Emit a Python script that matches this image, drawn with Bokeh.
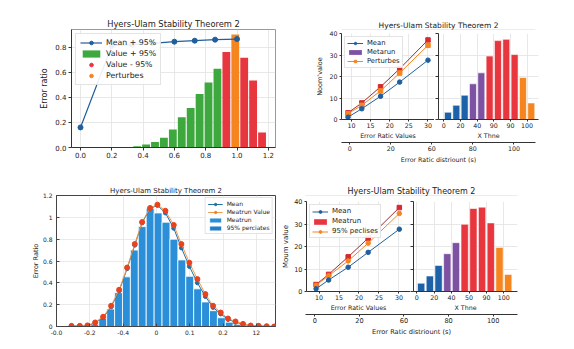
import numpy as np
from bokeh.plotting import figure
from bokeh.layouts import column, row
from bokeh.models import Range1d, FixedTicker, Legend, LegendItem
from bokeh.embed import file_html
from bokeh.resources import INLINE

FONT = "DejaVu Sans"
TITLE = "Hyers-Ulam Stability Theorem 2"
NONE = np.array([np.nan])  # legend-only proxies: nothing is drawn for NaN

# ---------------- data: top-left panel ----------------
tl_mean_x = [0.0, 0.2, 0.33, 0.46, 0.6, 0.73, 0.86, 1.0]
tl_mean_y = [0.16, 0.81, 0.82, 0.83, 0.843, 0.851, 0.859, 0.864]
tl_plus_x = [0.362, 0.419, 0.476, 0.533, 0.59, 0.647, 0.704, 0.761, 0.818, 0.875]
tl_plus_y = [0.01, 0.024, 0.043, 0.077, 0.144, 0.24, 0.315, 0.427, 0.517, 0.627]
tl_minus_x = [0.932, 1.046, 1.103, 1.16]
tl_minus_y = [0.76, 0.715, 0.533, 0.12]
tl_pert_x = [0.989]
tl_pert_y = [0.90]
tl_xticks = [0.0, 0.2, 0.4, 0.6, 0.8, 1.0, 1.2]
tl_xlabels = ["0.0", "0.2", "0.4", "0.6", "0.8", "1.0", "1.2"]
tl_yticks = [0.0, 0.2, 0.4, 0.6, 0.8]
tl_ylabels = ["0.0", "0.2", "0.4", "0.6", "0.8"]

# ---------------- data: top-right panel ----------------
tr_x = [9.1, 12.7, 17.6, 22.6, 30.0]
tr_mean = [1.1, 5.0, 10.8, 17.4, 27.6]
tr_pert = [2.7, 6.6, 13.3, 21.6, 34.5]
tr_upper = [3.1, 7.7, 15.2, 23.6, 37.0]
tr_bar_x = [5, 15, 25, 35, 45, 55, 65, 75, 85, 95, 105]
tr_bar_h = [3.4, 6.6, 11.3, 16.6, 21.7, 29.5, 36.7, 37.3, 30.2, 19.5, 7.7]
tr_bar_grp = ["mean", "mean", "mean", "meta", "meta", "upper", "upper", "upper", "upper", "pert", "pert"]
tr_xticks_l = [10, 15, 20, 25, 30]
tr_yticks = [0, 10, 20, 30, 40]
tr_xticks_r = [0, 20, 40, 60, 80, 100]
tr_xlabels_r = ["0", "20", "40", "90", "90", "100"]
tr_sec_ticks = [0, 20, 40, 60, 80]
tr_sec_labels = ["0", "20", "60", "80", "100"]

# ---------------- data: bottom-left panel ----------------
bl_bar_x = [-0.37, -0.3225, -0.275, -0.2275, -0.18, -0.1325, -0.085, -0.0375, 0.01, 0.0575,
            0.105, 0.1525, 0.2, 0.2475, 0.295, 0.3425, 0.39, 0.4375, 0.485, 0.5325]
bl_bar_h = [0.02, 0.073, 0.16, 0.31, 0.455, 0.70, 0.915, 1.08, 1.04, 0.955,
            0.80, 0.61, 0.46, 0.345, 0.225, 0.145, 0.08, 0.04, 0.02, 0.01]
bl_pt_x = [-0.51, -0.46, -0.414, -0.368, -0.32, -0.272, -0.224, -0.176, -0.13, -0.086, -0.038,
           0.006, 0.054, 0.104, 0.15, 0.198, 0.246, 0.294, 0.34, 0.386, 0.43, 0.475, 0.52,
           0.566, 0.614, 0.662, 0.707]
bl_value = [0.006, 0.006, 0.01, 0.037, 0.089, 0.19, 0.336, 0.54, 0.755, 0.957, 1.086,
            1.116, 1.06, 0.93, 0.755, 0.584, 0.434, 0.297, 0.19, 0.128, 0.073, 0.046, 0.024,
            0.009, 0.006, 0.003, 0.0]
bl_mean = [0.004, 0.005, 0.008, 0.033, 0.082, 0.18, 0.325, 0.53, 0.745, 0.95, 1.08,
           1.11, 1.04, 0.90, 0.72, 0.55, 0.40, 0.275, 0.175, 0.115, 0.065, 0.04, 0.02,
           0.008, 0.005, 0.002, 0.0]
bl_xticks = [-0.6, -0.4, -0.2, 0.0, 0.2, 0.4, 0.6]
bl_xlabels = ["-0.0", "-0.2", "-0.4", "0", "0.1", "0.2", "12"]
bl_yticks = [0.0, 0.2, 0.4, 0.6, 0.8, 1.0, 1.2]
bl_ylabels = ["0", "0.2", "0.4", "0.6", "0.8", "1", "1.2"]

# ---------------- data: bottom-right panel ----------------
br_x = [9.26, 12.4, 17.3, 22.3, 30.1]
br_mean = [1.2, 5.1, 10.8, 17.4, 27.7]
br_pert = [2.8, 7.0, 13.6, 21.5, 34.7]
br_upper = [3.1, 7.6, 15.4, 23.7, 37.3]
br_bar_x = [5, 15, 25, 35, 45, 55, 65, 75, 85, 95, 105]
br_bar_h = [3.7, 6.9, 11.6, 16.8, 21.7, 29.9, 36.9, 37.5, 30.5, 19.6, 7.6]
br_bar_grp = ["mean", "mean", "mean", "meta", "meta", "upper", "upper", "upper", "upper", "pert", "pert"]
br_xlabels_r = ["0", "20", "40", "50", "90", "100"]

# ---------------- colours ----------------
BLUE = "#1f5f9e"
GREEN = "#3da83d"
RED = "#e8363f"
ORANGE = "#f5851f"
PURPLE = "#7d52a3"
DARKRED = "#a3282e"
BARBLUE = "#2a8fd8"
GRP_COL = {"mean": "#1d62a8", "meta": PURPLE, "upper": RED, "pert": ORANGE}
TXT = "#222222"


def make_fig(w, h, xr, yr, bl, br, bt, bb, **kw):
    p = figure(width=w, height=h, x_range=Range1d(*xr), y_range=Range1d(*yr),
               output_backend="svg", toolbar_location=None,
               min_border_left=bl, min_border_right=br, min_border_top=bt, min_border_bottom=bb, **kw)
    p.border_fill_color = "white"
    p.background_fill_color = "white"
    return p


def style_axis(ax, fs, lfs, tick_out=3, tick_in=0, standoff=2, lstandoff=2, color="#333333"):
    ax.major_label_text_font = FONT
    ax.major_label_text_font_size = fs
    ax.major_label_text_color = TXT
    ax.axis_label_text_font = FONT
    ax.axis_label_text_font_size = lfs
    ax.axis_label_text_font_style = "normal"
    ax.axis_label_text_color = TXT
    ax.axis_line_color = color
    ax.major_tick_line_color = color
    ax.minor_tick_line_color = None
    ax.major_tick_out = tick_out
    ax.major_tick_in = tick_in
    ax.major_label_standoff = standoff
    ax.axis_label_standoff = lstandoff


def set_ticks(ax, vals, labels=None):
    ax.ticker = FixedTicker(ticks=vals, minor_ticks=[])
    if labels is not None:
        ax.major_label_overrides = dict(zip(vals, labels))


def style_grid(p, xvals, yvals, color="#e2e2e2"):
    p.xgrid.ticker = FixedTicker(ticks=xvals, minor_ticks=[])
    p.ygrid.ticker = FixedTicker(ticks=yvals, minor_ticks=[])
    p.grid.grid_line_color = color
    p.grid.grid_line_width = 0.8


def style_title(p, fs, standoff):
    p.title.text_font = FONT
    p.title.text_font_size = fs
    p.title.text_font_style = "normal"
    p.title.align = "center"
    p.title.standoff = standoff
    p.title.text_color = TXT


def make_legend(items, loc, fs, gw, gh, spacing, padding, margin):
    return Legend(items=items, location=loc, label_text_font=FONT, label_text_font_size=fs,
                  label_text_color=TXT, glyph_width=gw, glyph_height=gh, label_height=gh,
                  spacing=spacing, padding=padding, margin=margin, label_standoff=4,
                  border_line_color="#c8c8c8", border_line_width=0.8,
                  background_fill_color="white", background_fill_alpha=0.9)


def header(w, h, bl, br, fs):
    p = figure(width=w, height=h, title=TITLE, x_range=Range1d(0, 1), y_range=Range1d(0, 1),
               output_backend="svg", toolbar_location=None,
               x_axis_location=None, y_axis_location=None,
               min_border_left=bl, min_border_right=br, min_border_top=h - 1, min_border_bottom=0)
    p.outline_line_color = None
    p.border_fill_color = "white"
    style_title(p, fs, 0)
    return p


def axis_fig(w, h, xr, bl, br, vals, labels, label, fs):
    p = figure(width=w, height=h, x_range=Range1d(*xr), y_range=Range1d(0, 1),
               output_backend="svg", toolbar_location=None, y_axis_location=None,
               min_border_left=bl, min_border_right=br, min_border_top=0, min_border_bottom=h - 1)
    p.grid.visible = False
    p.outline_line_color = None
    p.border_fill_color = "white"
    ax = p.xaxis[0]
    style_axis(ax, fs, fs, tick_out=2, standoff=1, lstandoff=2)
    set_ticks(ax, vals, labels)
    ax.axis_label = label
    return p


# ================= top-left =================
tl = make_fig(271, 162, (-0.0575, 1.246), (0, 0.94), 63, 4, 21, 23, title=TITLE)
style_title(tl, "8.3px", 1)
style_grid(tl, tl_xticks, tl_yticks)
tl.outline_line_color = "#999999"
style_axis(tl.xaxis[0], "7px", "8px", tick_out=3, standoff=1)
style_axis(tl.yaxis[0], "7px", "8px", tick_out=3, standoff=2, lstandoff=3)
set_ticks(tl.xaxis[0], tl_xticks, tl_xlabels)
set_ticks(tl.yaxis[0], tl_yticks, tl_ylabels)
tl.yaxis[0].axis_label = "Error ratio"
r_plus = tl.vbar(x=tl_plus_x, top=tl_plus_y, width=0.05, fill_color=GREEN, line_color=None)
r_minus = tl.vbar(x=tl_minus_x, top=tl_minus_y, width=0.05, fill_color=RED, line_color=None)
r_pert = tl.vbar(x=tl_pert_x, top=tl_pert_y, width=0.05, fill_color=ORANGE, line_color=None)
r_ml = tl.line(tl_mean_x, tl_mean_y, line_color=BLUE, line_width=1.2)
r_mp = tl.scatter(tl_mean_x, tl_mean_y, marker="circle", size=5, fill_color=BLUE, line_color=BLUE)
r_minus_leg = tl.scatter(x=NONE, y=NONE, marker="circle", size=7, fill_color=RED, line_color=RED)
r_pert_leg = tl.scatter(x=NONE, y=NONE, marker="circle", size=7, fill_color=ORANGE, line_color=ORANGE)
tl.add_layout(make_legend([
    LegendItem(label="Mean + 95%", renderers=[r_ml, r_mp]),
    LegendItem(label="Value + 95%", renderers=[r_plus]),
    LegendItem(label="Value - 95%", renderers=[r_minus_leg]),
    LegendItem(label="Perturbes", renderers=[r_pert_leg]),
], "top_left", "7.8px", 22, 9, 2, 4, 4))

# ================= top-right =================
tr_head = header(286, 22, 62, 30, "7.5px")

tr1 = make_fig(155, 111, (7.4, 31.7), (0, 40), 62, 0, 3, 22)
style_grid(tr1, tr_xticks_l, tr_yticks)
tr1.outline_line_color = None
style_axis(tr1.xaxis[0], "6.3px", "6.3px", tick_out=2, standoff=1, lstandoff=1)
style_axis(tr1.yaxis[0], "6.3px", "6.5px", tick_out=2, standoff=2, lstandoff=2)
set_ticks(tr1.xaxis[0], tr_xticks_l)
set_ticks(tr1.yaxis[0], tr_yticks)
tr1.xaxis[0].axis_label = "Error Ratic Values"
tr1.yaxis[0].axis_label = "Noom'valoe"
tr1.line(tr_x, tr_upper, line_color=DARKRED, line_width=1)
tr1.scatter(tr_x, tr_upper, marker="square", size=4.5, fill_color="#d62a30", line_color="#d62a30")
a1 = tr1.line(tr_x, tr_pert, line_color=ORANGE, line_width=1)
a2 = tr1.scatter(tr_x, tr_pert, marker="square", size=4.5, fill_color=ORANGE, line_color=ORANGE)
b1 = tr1.line(tr_x, tr_mean, line_color=BLUE, line_width=1)
b2 = tr1.scatter(tr_x, tr_mean, marker="circle", size=4.5, fill_color=BLUE, line_color=BLUE)
tr_meta_leg = tr1.vbar(x=NONE, top=NONE, width=1, fill_color=PURPLE, line_color=None)
tr1.add_layout(make_legend([
    LegendItem(label="Mean", renderers=[b1, b2]),
    LegendItem(label="Metarun", renderers=[tr_meta_leg]),
    LegendItem(label="Perturbes", renderers=[a1, a2]),
], "top_left", "6.8px", 16, 6, 1, 2, 3))

tr2 = make_fig(131, 111, (-6.4, 113.7), (0, 40), 4, 27, 3, 22)
style_grid(tr2, tr_xticks_r, tr_yticks)
tr2.outline_line_color = None
style_axis(tr2.xaxis[0], "6.3px", "6.3px", tick_out=2, standoff=1, lstandoff=1)
style_axis(tr2.yaxis[0], "1px", "6.3px", tick_out=3, standoff=0, lstandoff=0)
tr2.yaxis[0].major_label_text_alpha = 0
set_ticks(tr2.xaxis[0], tr_xticks_r, tr_xlabels_r)
set_ticks(tr2.yaxis[0], tr_yticks)
tr2.xaxis[0].axis_label = "X Thne"
tr2.vbar(x=tr_bar_x, top=tr_bar_h, width=8.4, fill_color=[GRP_COL[g] for g in tr_bar_grp],
         line_color="white", line_width=0.6)

tr_ax = axis_fig(286, 29, (-3.98, 90.5), 62, 27, tr_sec_ticks, tr_sec_labels,
                 "Error Ratic distriount (s)", "6.3px")

tr_panel = column(tr_head, row(tr1, tr2), tr_ax)

# ================= bottom-left =================
bl = make_fig(271, 170, (-0.6, 0.715), (0, 1.2), 48, 4, 25, 14, title=TITLE)
style_title(bl, "7px", 1)
style_grid(bl, bl_xticks, bl_yticks, "#e4e4e4")
bl.outline_line_color = "#444444"
style_axis(bl.xaxis[0], "6px", "6.5px", tick_out=0, tick_in=3, standoff=3, color="#444444")
style_axis(bl.yaxis[0], "6px", "6.5px", tick_out=0, tick_in=3, standoff=4, lstandoff=0, color="#444444")
set_ticks(bl.xaxis[0], bl_xticks, bl_xlabels)
set_ticks(bl.yaxis[0], bl_yticks, bl_ylabels)
bl.yaxis[0].axis_label = "Error Ratio"
h1 = bl.vbar(x=bl_bar_x, top=bl_bar_h, width=0.0475, fill_color=BARBLUE, line_color="white", line_width=0.8)
h2 = bl.vbar(x=NONE, top=NONE, width=0.0475, fill_color="#1f80c8", line_color="white", line_width=0.8)
m1 = bl.line(bl_pt_x, bl_mean, line_color="#1f6fa8", line_width=1)
m2 = bl.scatter(bl_pt_x, bl_mean, marker="circle", size=4, fill_color="#1f6fa8", line_color="#1f6fa8")
v1 = bl.line(bl_pt_x, bl_value, line_color="#f39a4a", line_width=1)
v2 = bl.scatter(bl_pt_x, bl_value, marker="circle", size=5, fill_color="#e8421e", line_color="#e8421e")
v_leg = bl.scatter(x=NONE, y=NONE, marker="circle", size=4, fill_color="#f0802a", line_color="#f0802a")
bl.add_layout(make_legend([
    LegendItem(label="Mean", renderers=[m1, m2]),
    LegendItem(label="Meatrun Value", renderers=[v1, v_leg]),
    LegendItem(label="Meatrun", renderers=[h1]),
    LegendItem(label="95% perciates", renderers=[h2]),
], "top_right", "6px", 15, 6, 1, 2, 2))

# ================= bottom-right =================
br_head = header(286, 26, 26, 48, "8px")

br1 = make_fig(131, 117, (6.86, 32.9), (0, 40), 26, 0, 5, 21)
style_grid(br1, tr_xticks_l, tr_yticks)
br1.outline_line_color = None
style_axis(br1.xaxis[0], "6.3px", "6.3px", tick_out=2, standoff=1, lstandoff=1)
style_axis(br1.yaxis[0], "6.5px", "7px", tick_out=2, standoff=2, lstandoff=1)
set_ticks(br1.xaxis[0], tr_xticks_l)
set_ticks(br1.yaxis[0], tr_yticks)
br1.xaxis[0].axis_label = "Error Ratic Values"
br1.yaxis[0].axis_label = "Moum value"
br1.line(br_x, br_upper, line_color=DARKRED, line_width=1)
br1.scatter(br_x, br_upper, marker="square", size=4.5, fill_color="#d62a30", line_color="#d62a30")
c1 = br1.line(br_x, br_pert, line_color=ORANGE, line_width=1)
c2 = br1.scatter(br_x, br_pert, marker="circle", size=4.5, fill_color=ORANGE, line_color=ORANGE)
d1 = br1.line(br_x, br_mean, line_color=BLUE, line_width=1)
d2 = br1.scatter(br_x, br_mean, marker="circle", size=4.5, fill_color=BLUE, line_color=BLUE)
br_meta_leg = br1.vbar(x=NONE, top=NONE, width=1, fill_color=RED, line_color=None)
br1.add_layout(make_legend([
    LegendItem(label="Mean", renderers=[d1, d2]),
    LegendItem(label="Meatrun", renderers=[br_meta_leg]),
    LegendItem(label="95% peclises", renderers=[c1, c2]),
], "top_left", "7px", 16, 7, 2, 2, 3))

br2 = make_fig(155, 117, (-3.8, 115.7), (0, 40), 3, 48, 5, 21)
style_grid(br2, tr_xticks_r, tr_yticks)
br2.outline_line_color = None
style_axis(br2.xaxis[0], "6.3px", "6.3px", tick_out=2, standoff=1, lstandoff=1)
style_axis(br2.yaxis[0], "1px", "6.3px", tick_out=3, standoff=0, lstandoff=0)
br2.yaxis[0].major_label_text_alpha = 0
set_ticks(br2.xaxis[0], tr_xticks_r, br_xlabels_r)
set_ticks(br2.yaxis[0], tr_yticks)
br2.xaxis[0].axis_label = "X Thne"
br2.vbar(x=br_bar_x, top=br_bar_h, width=8.4, fill_color=[GRP_COL[g] for g in br_bar_grp],
         line_color="white", line_width=0.6)

br_ax = axis_fig(286, 27, (-4.17, 90.9), 26, 48, tr_sec_ticks, tr_sec_labels,
                 "Error Ratic distriount (s)", "6.6px")

br_panel = column(br_head, row(br1, br2), br_ax)

page = column(row(tl, tr_panel), row(bl, br_panel), margin=(8, 0, 0, 8))

with open("out.html", "w") as f:
    f.write(file_html(page, INLINE, title="Hyers-Ulam Stability Theorem 2"))
